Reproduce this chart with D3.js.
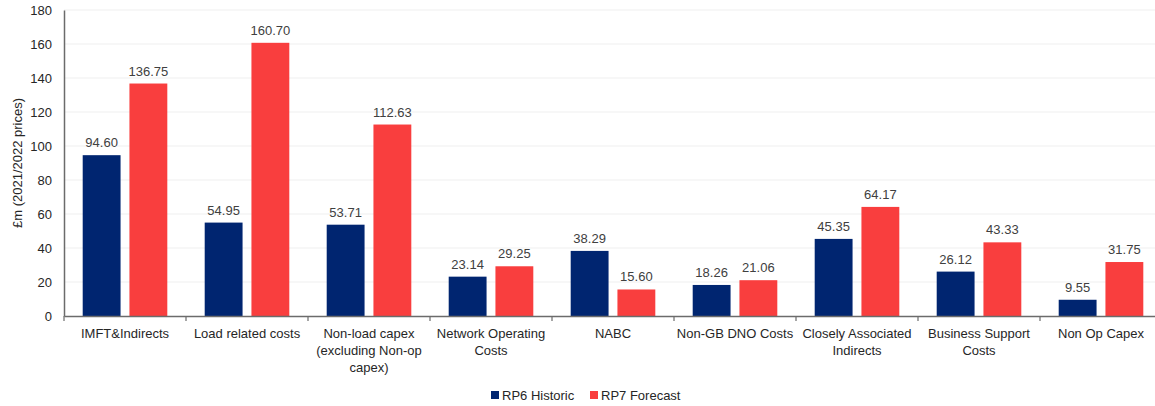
<!DOCTYPE html>
<html><head><meta charset="utf-8">
<script src="https://cdn.jsdelivr.net/npm/d3@7"></script>
<style>body{margin:0;background:#fff;} svg{display:block;font-family:"Liberation Sans",Arial,sans-serif;}</style>
</head><body>
<svg id="c" width="1155" height="406"></svg>
<script>
const categories = [
  ["IMFT&Indirects"],
  ["Load related costs"],
  ["Non-load capex", "(excluding Non-op", "capex)"],
  ["Network Operating", "Costs"],
  ["NABC"],
  ["Non-GB DNO Costs"],
  ["Closely Associated", "Indirects"],
  ["Business Support", "Costs"],
  ["Non Op Capex"]
];
const rp6 = [94.60, 54.95, 53.71, 23.14, 38.29, 18.26, 45.35, 26.12, 9.55];
const rp7 = [136.75, 160.70, 112.63, 29.25, 15.60, 21.06, 64.17, 43.33, 31.75];
const seriesNames = ["RP6 Historic", "RP7 Forecast"];
const colors = ["#002570", "#F93E3E"];
const yTicks = [0, 20, 40, 60, 80, 100, 120, 140, 160, 180];

const svg = d3.select("#c");
const mLeft = 64, mRight = 1162, mTop = 10, mBottom = 316;
const idx = categories.map((d, i) => i);
const x = d3.scaleBand().domain(idx).range([mLeft, mRight]);
const sub = d3.scaleBand().domain([0, 1]).range([0, x.bandwidth()]).paddingInner(0.19).paddingOuter(0.4);
const y = d3.scaleLinear().domain([0, 180]).range([mBottom, mTop]);

// gridlines
svg.append("g").selectAll("line").data(yTicks.slice(1)).join("line")
  .attr("x1", mLeft).attr("x2", 1155).attr("y1", d => y(d)).attr("y2", d => y(d))
  .attr("stroke", "#efefef").attr("stroke-width", 1);

// bars
const series = [rp6, rp7];
series.forEach((vals, s) => {
  svg.append("g").selectAll("rect").data(vals).join("rect")
    .attr("x", (d, i) => x(i) + sub(s)).attr("width", sub.bandwidth())
    .attr("y", d => y(d)).attr("height", d => y(0) - y(d))
    .attr("fill", colors[s]);
  svg.append("g").selectAll("text").data(vals).join("text")
    .attr("x", (d, i) => x(i) + sub(s) + sub.bandwidth() / 2)
    .attr("y", d => y(d) - 8)
    .attr("text-anchor", "middle").attr("font-size", 13).attr("fill", "#404040")
    .text(d => d.toFixed(2));
});

// y axis
const ya = svg.append("g").attr("transform", `translate(${mLeft},0)`)
  .call(d3.axisLeft(y).tickValues(yTicks).tickSize(0).tickPadding(12));
ya.select(".domain").attr("stroke", "#6b6b6b").attr("stroke-width", 1.5);
ya.selectAll("text").attr("font-size", 13).attr("fill", "#262626").attr("font-family", "Liberation Sans, Arial, sans-serif");

// x axis
const xa = svg.append("g").attr("transform", `translate(0,${mBottom})`)
  .call(d3.axisBottom(x).tickSize(0).tickFormat(""));
xa.select(".domain").attr("stroke", "#6b6b6b").attr("stroke-width", 1.5);
xa.selectAll(".tick").remove();
const bounds = idx.map(i => x(i)).concat([mRight]);
svg.append("g").selectAll("line").data(bounds).join("line")
  .attr("x1", d => d).attr("x2", d => d).attr("y1", mBottom).attr("y2", mBottom + 5)
  .attr("stroke", "#6b6b6b").attr("stroke-width", 1.2);

const lab = svg.append("g").selectAll("text").data(categories).join("text")
  .attr("text-anchor", "middle").attr("font-size", 13).attr("fill", "#262626")
  .attr("transform", (d, i) => `translate(${x(i) + x.bandwidth() / 2},${mBottom + 22})`);
lab.selectAll("tspan").data(d => d).join("tspan")
  .attr("x", 0).attr("y", (d, j) => j * 17).text(d => d);

// y title
svg.append("text").attr("transform", "translate(22,163) rotate(-90)")
  .attr("text-anchor", "middle").attr("font-size", 13).attr("fill", "#262626")
  .text("£m (2021/2022 prices)");

// legend
const lg = svg.append("g");
const lx = [491, 590];
seriesNames.forEach((n, s) => {
  lg.append("rect").attr("x", lx[s]).attr("y", 391).attr("width", 8).attr("height", 8).attr("fill", colors[s]);
  lg.append("text").attr("x", lx[s] + 11).attr("y", 400).attr("font-size", 13).attr("fill", "#262626").text(n);
});
</script>
</body></html>
